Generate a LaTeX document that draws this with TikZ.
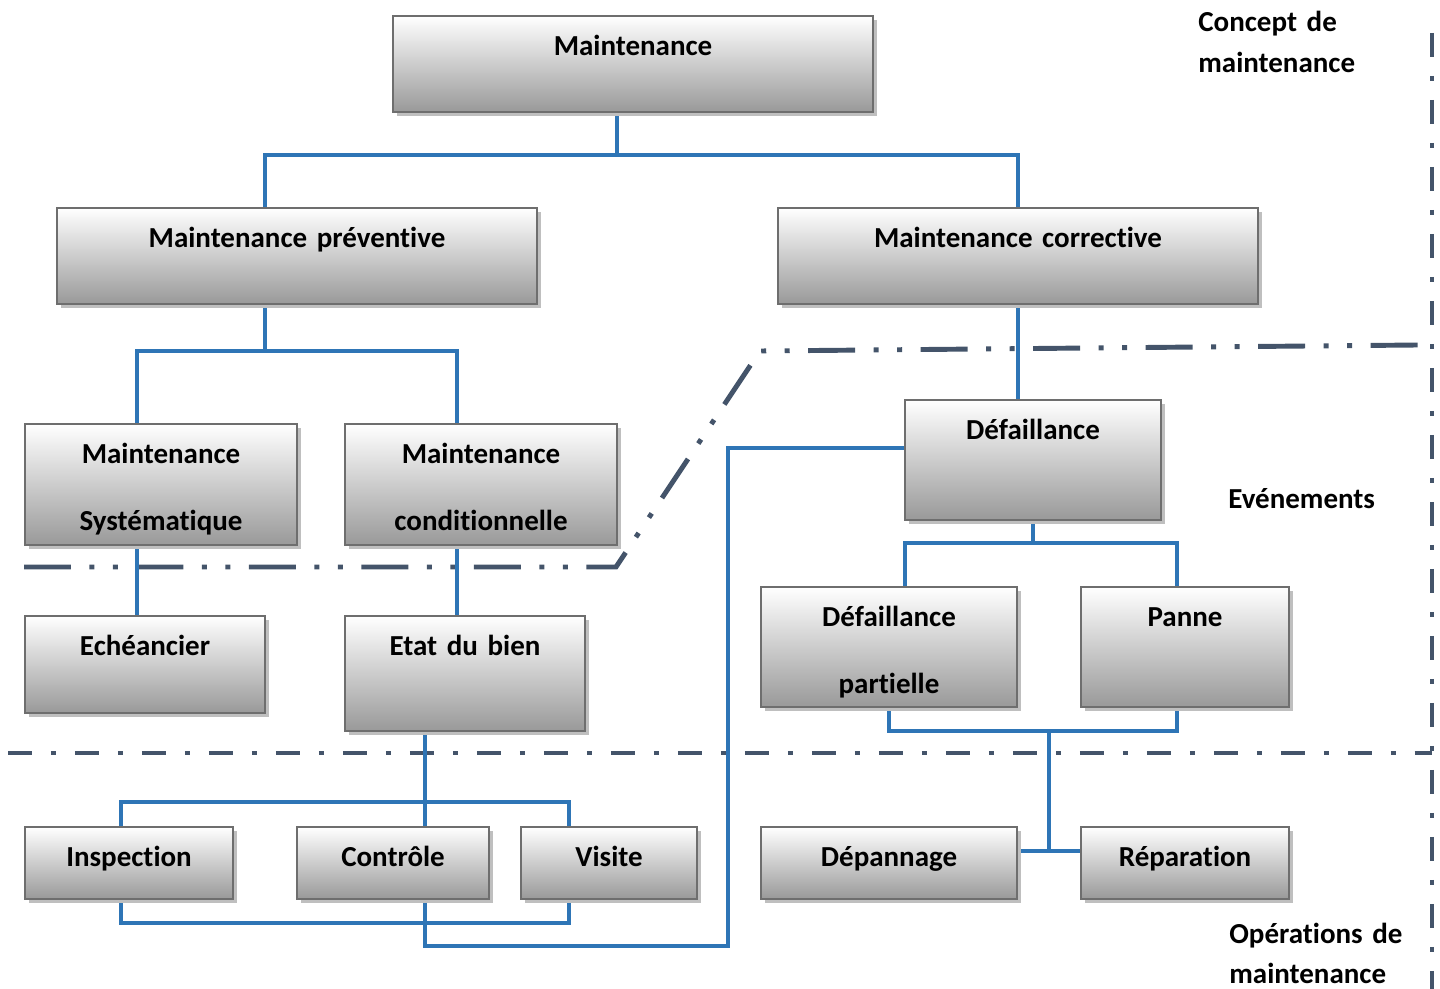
\documentclass[tikz,border=0pt]{standalone}
\usepackage{fontspec}
\setmainfont[Ligatures={NoCommon,NoContextual,NoRare}, RawFeature={-liga;-clig;-calt;-dlig}]{Carlito}
\usetikzlibrary{calc, shadows, backgrounds}
\definecolor{LinkBlue}{HTML}{2E75B6}
\definecolor{ZoneSlate}{HTML}{44546A}
\definecolor{BoxEdge}{HTML}{6E6E6E}
\tikzset{
    % Box style - gradient, label near the top edge
    mbox/.style 2 args={
        rectangle,
        draw=BoxEdge,
        line width=1.2pt,
        top color=white,
        bottom color=black!40,
        drop shadow={shadow xshift=0.08cm, shadow yshift=-0.08cm, fill=black!25, opacity=1},
        inner xsep=0pt,
        inner ysep=0pt,
        text width=#1,
        align=center,
        text height=0.78cm,
        text depth=#2,
        anchor=north west,
        font=\fontsize{16.5pt}{38.5pt}\selectfont\bfseries
    },
    % Side labels
    note/.style={
        inner sep=0pt,
        align=left,
        font=\fontsize{16.5pt}{23pt}\selectfont\bfseries
    },
    % Connector styles
    link/.style={
        draw=LinkBlue,
        line width=2.2pt
    },
    zonelong/.style={
        draw=ZoneSlate,
        line width=2.8pt,
        dash pattern=on 0.94cm off 0.37cm on 0.1cm off 0.37cm on 0.1cm off 0.37cm
    },
    zoneshort/.style={
        draw=ZoneSlate,
        line width=2.8pt,
        dash pattern=on 0.48cm off 0.38cm on 0.1cm off 0.38cm
    }
}
\begin{document}
\begin{tikzpicture}[x=0.02cm, y=-0.02cm]
    \useasboundingbox (0,0) rectangle (1440,989);

    % Concept de maintenance
    \node[mbox={9.6cm}{1.14cm}] (maint) at (392,15) {Maintenance};
    \node[mbox={9.6cm}{1.14cm}] (prev) at (56,207) {Maintenance préventive};
    \node[mbox={9.6cm}{1.14cm}] (corr) at (777,207) {Maintenance corrective};
    \node[mbox={5.44cm}{1.64cm}] (syst) at (24,423) {Maintenance\\Systématique};
    \node[mbox={5.44cm}{1.64cm}] (cond) at (344,423) {Maintenance\\conditionnelle};

    % Evénements
    \node[mbox={5.12cm}{1.62cm}] (defa) at (904,399) {Défaillance};
    \node[mbox={4.8cm}{1.16cm}] (eche) at (24,615) {Echéancier};
    \node[mbox={4.8cm}{1.52cm}] (etat) at (344,615) {Etat du bien};
    \node[mbox={5.12cm}{1.62cm}] (part) at (760,586) {Défaillance\\partielle};
    \node[mbox={4.16cm}{1.62cm}] (panne) at (1080,586) {Panne};

    % Opérations de maintenance
    \node[mbox={4.16cm}{0.66cm}] (insp) at (24,826) {Inspection};
    \node[mbox={3.84cm}{0.66cm}] (ctrl) at (296,826) {Contrôle};
    \node[mbox={3.52cm}{0.66cm}] (visi) at (520,826) {Visite};
    \node[mbox={5.12cm}{0.66cm}] (depa) at (760,826) {Dépannage};
    \node[mbox={4.16cm}{0.66cm}] (repa) at (1080,826) {Réparation};

    % Side labels
    \node[note, anchor=base west, text width=4cm] (concept) at (1198,32) {Concept de\\maintenance};
    \node[note, anchor=base west] (events) at (1228,509) {Evénements};
    \node[note, anchor=base west, text width=4cm] (ops) at (1229,943) {Opérations de\\maintenance};

    \begin{scope}[on background layer]
        % Zone separators
        \draw[zonelong] (24,567) -- (616,567) -- (760,351) -- (1418,345);
        \draw[zoneshort] (8,753) -- (1432,753);
        \draw[zoneshort] (1432,33) -- (1432,989);

        % Maintenance tree
        \draw[link] ([xshift=-0.32cm]maint.south) -- ++(0,44);
        \draw[link] ([xshift=-0.64cm]prev.north) |- ([yshift=1.04cm]corr.north) -- (corr.north);
        \draw[link] ([xshift=-0.64cm]prev.south) -- ++(0,48);
        \draw[link] ([xshift=-0.48cm]syst.north) |- ([xshift=-0.48cm,yshift=1.44cm]cond.north) -- ([xshift=-0.48cm]cond.north);
        \draw[link] ([xshift=-0.48cm]syst.south) -- ++(0,71);
        \draw[link] ([xshift=-0.48cm]cond.south) -- ++(0,71);

        % Corrective side
        \draw[link] (corr.south) -- ++(0,96);
        \draw[link] (defa.south) -- ++(0,24);
        \draw[link] ([xshift=0.32cm]part.north) |- ([xshift=-0.16cm,yshift=0.86cm]panne.north) -- ([xshift=-0.16cm]panne.north);
        \draw[link] (part.south) |- ([xshift=-0.16cm,yshift=-0.46cm]panne.south) -- ([xshift=-0.16cm]panne.south);
        \draw[link] ([yshift=0.24cm]depa.east) -- ([yshift=0.24cm]repa.west);
        \draw[link] ($(depa.east)!0.5!(repa.west)+(0,-12)$) -- ++(0,-121);

        % Défaillance back to the inspections
        \draw[link] ([yshift=0.24cm]defa.west) -| ++(-176,498) -| ([xshift=-0.8cm]etat.south);
        \draw[link] ([xshift=-0.16cm]insp.north) |- ([xshift=-0.8cm,yshift=0.48cm]visi.north) -- ([xshift=-0.8cm]visi.north);
        \draw[link] ([xshift=-0.16cm]insp.south) |- ([xshift=-0.8cm,yshift=-0.46cm]visi.south) -- ([xshift=-0.8cm]visi.south);
    \end{scope}
\end{tikzpicture}
\end{document}
